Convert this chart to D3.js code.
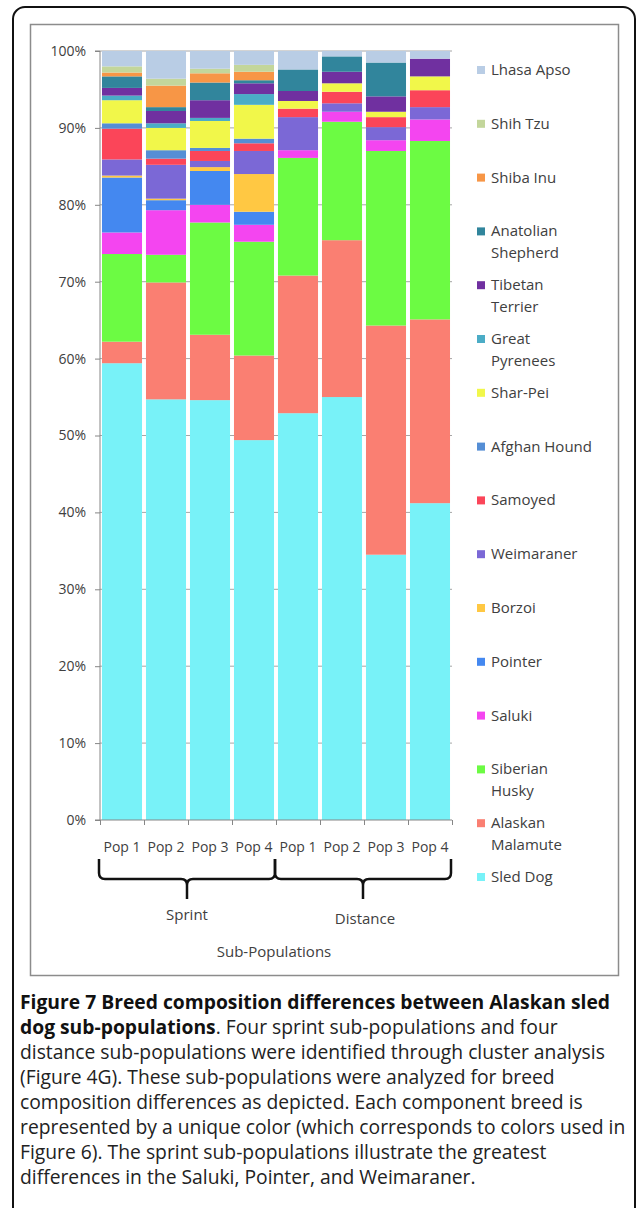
<!DOCTYPE html>
<html lang="en">
<head>
<meta charset="UTF-8">
<title>Breed composition of Alaskan sled dog sub-populations</title>
<script src="https://d3js.org/d3.v7.min.js"></script>
<style>
  body { margin: 0; background: #fff; }
  text { font-family: "Open Sans", sans-serif; }
</style>
</head>
<body>
<div id="chart"></div>
<script>
// Sub-populations (x categories) and their groups
var pops = ["S1", "S2", "S3", "S4", "D1", "D2", "D3", "D4"];
var popLabels = ["Pop 1", "Pop 2", "Pop 3", "Pop 4", "Pop 1", "Pop 2", "Pop 3", "Pop 4"];
var groups = ["Sprint", "Distance"];
var yTicks = [0, 10, 20, 30, 40, 50, 60, 70, 80, 90, 100];

// Breed shares (%) per sub-population
var sledDog = [59.4, 54.7, 54.6, 49.4, 52.9, 55.0, 34.5, 41.2];
var alaskanMalamute = [2.8, 15.2, 8.5, 11.0, 17.9, 20.4, 29.8, 23.9];
var siberianHusky = [11.4, 3.6, 14.6, 14.8, 15.3, 15.4, 22.7, 23.2];
var saluki = [2.8, 5.8, 2.3, 2.2, 1.0, 1.3, 1.4, 2.8];
var pointer = [7.15, 1.3, 4.4, 1.7, 0, 0, 0, 0];
var borzoi = [0.25, 0.2, 0.5, 4.9, 0, 0, 0, 0];
var weimaraner = [2.1, 4.4, 0.8, 3.0, 4.3, 1.1, 1.7, 1.6];
var samoyed = [4.0, 0.8, 1.3, 1.0, 1.1, 1.5, 1.3, 2.2];
var afghanHound = [0.7, 1.1, 0.4, 0.6, 0, 0, 0, 0];
var sharPei = [3.0, 2.9, 3.5, 4.4, 1.0, 1.1, 0.7, 1.8];
var greatPyrenees = [0.6, 0.6, 0.4, 1.4, 0, 0, 0, 0];
var tibetanTerrier = [1.0, 1.6, 2.3, 1.4, 1.3, 1.5, 2.0, 2.3];
var anatolianShepherd = [1.5, 0.5, 2.3, 0.4, 2.8, 2.0, 4.4, 0];
var shibaInu = [0.5, 2.8, 1.2, 1.1, 0, 0, 0, 0];
var shihTzu = [0.8, 0.9, 0.6, 0.9, 0, 0, 0, 0];
var lhasaApso = [2.0, 3.6, 2.3, 1.8, 2.4, 0.7, 1.5, 1.0];

// Stack order, bottom to top
var breeds = ["Sled Dog", "Alaskan Malamute", "Siberian Husky", "Saluki", "Pointer", "Borzoi",
              "Weimaraner", "Samoyed", "Afghan Hound", "Shar-Pei", "Great Pyrenees",
              "Tibetan Terrier", "Anatolian Shepherd", "Shiba Inu", "Shih Tzu", "Lhasa Apso"];
var series = [sledDog, alaskanMalamute, siberianHusky, saluki, pointer, borzoi,
              weimaraner, samoyed, afghanHound, sharPei, greatPyrenees,
              tibetanTerrier, anatolianShepherd, shibaInu, shihTzu, lhasaApso];
var colors = ["#78f2f8", "#fa7f72", "#6cfb43", "#f445f0", "#4488f0", "#ffc843",
              "#7b68d6", "#fb4559", "#558ed5", "#f1f74a", "#4bacc6",
              "#7030a0", "#31859c", "#f79646", "#c3d69b", "#b9cde5"];

// Build a row per sub-population for d3.stack
var table = pops.map(function(p, i) {
    var row = {pop: p};
    breeds.forEach(function(b, j) { row[b] = series[j][i]; });
    return row;
});

var W = 637, H = 1208;
var svg = d3.select("#chart").append("svg")
    .attr("width", W)
    .attr("height", H);

// Outer figure frame and inner chart box
svg.append("rect")
   .attr("x", 13).attr("y", 7).attr("width", 622).attr("height", 1212)
   .attr("rx", 12)
   .attr("fill", "none").attr("stroke", "#111").attr("stroke-width", 2);
svg.append("rect")
   .attr("x", 30.5).attr("y", 24.5).attr("width", 588).attr("height", 951)
   .attr("fill", "none").attr("stroke", "#8c8c8c").attr("stroke-width", 1.5);

var x = d3.scaleBand()
    .domain(pops)
    .range([100, 452])
    .paddingInner(0.09)
    .paddingOuter(0.045);

var y = d3.scaleLinear()
    .domain([0, 100])
    .range([820, 51]);

// Gridlines behind the bars
svg.append("g")
   .selectAll("line")
   .data(yTicks.slice(1))
   .enter().append("line")
   .attr("x1", 100).attr("x2", 452)
   .attr("y1", function(d) { return y(d); })
   .attr("y2", function(d) { return y(d); })
   .attr("stroke", "#a6a6a6")
   .attr("stroke-width", 1);

var stack = d3.stack().keys(breeds);
var layers = stack(table);

svg.append("g")
   .selectAll("g")
   .data(layers)
   .enter().append("g")
   .attr("fill", function(d, i) { return colors[i]; })
   .selectAll("rect")
   .data(function(d) { return d; })
   .enter().append("rect")
   .attr("x", function(d) { return x(d.data.pop); })
   .attr("width", x.bandwidth())
   .attr("y", function(d) { return y(d[1]); })
   .attr("height", function(d) { return y(d[0]) - y(d[1]); });

// Y axis
var yAxis = d3.axisLeft(y)
    .tickValues(yTicks)
    .tickSize(5)
    .tickPadding(9)
    .tickFormat(function(d) { return d + "%"; });

var gy = svg.append("g")
   .attr("transform", "translate(100,0)")
   .call(yAxis);
gy.select(".domain").attr("stroke", "#868686").attr("d", "M-5," + y(100) + "H0V" + y(0) + "H-5");
gy.selectAll(".tick line").attr("stroke", "#868686");
gy.selectAll(".tick text")
  .attr("fill", "#404040")
  .style("font-size", "14px");

// X axis: boundary ticks and category labels
var xb = d3.scaleLinear().domain([0, pops.length]).range([100, 452]);
var gx = svg.append("g")
   .attr("transform", "translate(0," + y(0) + ")")
   .call(d3.axisBottom(xb).tickValues(d3.range(pops.length + 1)).tickSize(5).tickFormat(""));
gx.select(".domain").attr("stroke", "#868686").attr("d", "M100,0H452");
gx.selectAll(".tick line").attr("stroke", "#868686");

svg.append("g")
   .selectAll("text")
   .data(pops)
   .enter().append("text")
   .attr("x", function(d) { return x(d) + x.bandwidth() / 2; })
   .attr("y", 852)
   .attr("text-anchor", "middle")
   .attr("fill", "#404040")
   .style("font-size", "14px")
   .text(function(d, i) { return popLabels[i]; });

// Group braces under the categories
var braceTop = 859, braceMid = 879, braceTip = 899;
groups.forEach(function(g, k) {
    var x0 = xb(k * 4) - 1;
    var x1 = xb(k * 4 + 4) - 1;
    var xm = (x0 + x1) / 2;
    var r = 6;
    var path = "M" + x0 + "," + braceTop +
        "V" + (braceMid - r) +
        "Q" + x0 + "," + braceMid + " " + (x0 + r) + "," + braceMid +
        "H" + (xm - r) +
        "Q" + xm + "," + braceMid + " " + xm + "," + (braceMid + r) +
        "V" + braceTip +
        "M" + xm + "," + (braceMid + r) +
        "Q" + xm + "," + braceMid + " " + (xm + r) + "," + braceMid +
        "H" + (x1 - r) +
        "Q" + x1 + "," + braceMid + " " + x1 + "," + (braceMid - r) +
        "V" + braceTop;
    svg.append("path")
       .attr("d", path)
       .attr("fill", "none")
       .attr("stroke", "#111")
       .attr("stroke-width", 2.5);
    svg.append("text")
       .attr("x", xm + (k === 1 ? 2 : 0))
       .attr("y", 920 + k * 4)
       .attr("text-anchor", "middle")
       .attr("fill", "#404040")
       .style("font-size", "15px")
       .text(g);
});

svg.append("text")
   .attr("x", 274)
   .attr("y", 957)
   .attr("text-anchor", "middle")
   .attr("fill", "#404040")
   .style("font-size", "15px")
   .text("Sub-Populations");

// Legend, top entry is the last stacked breed
var legendNames = [["Lhasa Apso"], ["Shih Tzu"], ["Shiba Inu"], ["Anatolian", "Shepherd"],
                   ["Tibetan", "Terrier"], ["Great", "Pyrenees"], ["Shar-Pei"], ["Afghan Hound"],
                   ["Samoyed"], ["Weimaraner"], ["Borzoi"], ["Pointer"], ["Saluki"],
                   ["Siberian", "Husky"], ["Alaskan", "Malamute"], ["Sled Dog"]];
var legend = svg.append("g")
   .selectAll("g")
   .data(legendNames)
   .enter().append("g")
   .attr("transform", function(d, i) { return "translate(477," + (70 + i * 53.8) + ")"; });

legend.append("rect")
   .attr("x", 0).attr("y", -4)
   .attr("width", 8).attr("height", 8)
   .attr("fill", function(d, i) { return colors[breeds.length - 1 - i]; });

legend.append("text")
   .attr("x", 14)
   .attr("y", 5)
   .attr("fill", "#404040")
   .style("font-size", "15px")
   .selectAll("tspan")
   .data(function(d) { return d; })
   .enter().append("tspan")
   .attr("x", 14)
   .attr("dy", function(d, i) { return i === 0 ? 0 : 22; })
   .text(function(d) { return d; });

// Caption
var caption = [
    [["Figure 7 Breed composition differences between Alaskan sled", true]],
    [["dog sub-populations", true], [". Four sprint sub-populations and four", false]],
    [["distance sub-populations were identified through cluster analysis", false]],
    [["(Figure 4G). These sub-populations were analyzed for breed", false]],
    [["composition differences as depicted. Each component breed is", false]],
    [["represented by a unique color (which corresponds to colors used in", false]],
    [["Figure 6). The sprint sub-populations illustrate the greatest", false]],
    [["differences in the Saluki, Pointer, and Weimaraner.", false]]
];
var cap = svg.append("g");
caption.forEach(function(line, i) {
    var t = cap.append("text")
       .attr("x", 20)
       .attr("y", 1009 + i * 25)
       .attr("fill", "#111")
       .style("font-size", "19.3px");
    line.forEach(function(part) {
        t.append("tspan")
         .style("font-weight", part[1] ? "bold" : "normal")
         .attr("fill", part[1] ? "#111" : "#222")
         .text(part[0]);
    });
});
</script>
</body>
</html>
